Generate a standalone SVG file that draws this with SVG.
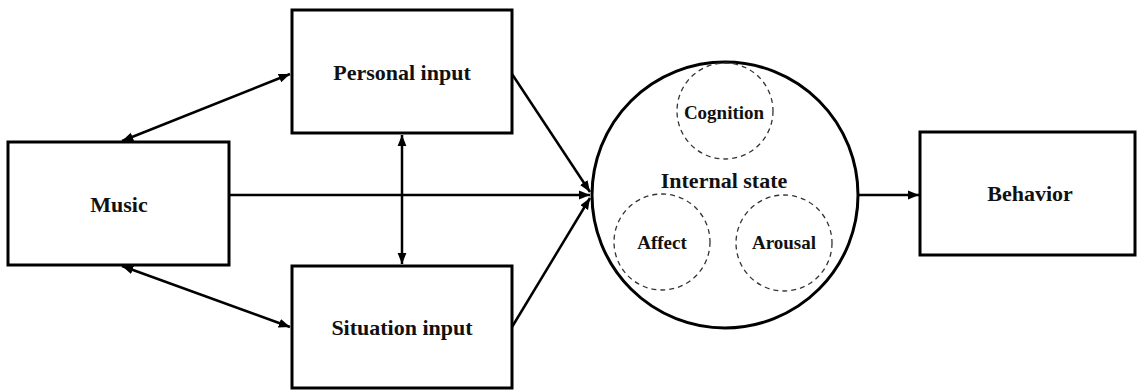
<svg xmlns="http://www.w3.org/2000/svg" width="1137" height="391" viewBox="0 0 1137 391">
<style>
.box{fill:#fff;stroke:#000;stroke-width:3}
.big{fill:#fff;stroke:#000;stroke-width:3}
.dash{fill:none;stroke:#333;stroke-width:1.3;stroke-dasharray:5,4}
.lbl{font-family:'Liberation Serif','Times New Roman','DejaVu Serif',serif;font-weight:bold;font-size:22px;fill:#111;text-anchor:middle}
.sm{font-size:19px}
.conn{stroke:#000;stroke-width:2.5;fill:none}
</style>
<defs>
<marker id="ah" viewBox="0 0 10 10" refX="10" refY="5" markerWidth="4.5" markerHeight="4.5" orient="auto-start-reverse" markerUnits="strokeWidth">
<path d="M0,1 L10,5 L0,9 z" fill="#000"/>
</marker>
</defs>
<g id="connectors">
<line class="conn" x1="122" y1="141" x2="290" y2="74" marker-start="url(#ah)" marker-end="url(#ah)"/>
<line class="conn" x1="122" y1="266" x2="290" y2="327" marker-start="url(#ah)" marker-end="url(#ah)"/>
<line class="conn" x1="402" y1="135" x2="402" y2="264" marker-start="url(#ah)" marker-end="url(#ah)"/>
<line class="conn" x1="229" y1="195" x2="590" y2="195" marker-end="url(#ah)"/>
<line class="conn" x1="512" y1="74" x2="590" y2="192" marker-end="url(#ah)"/>
<line class="conn" x1="512" y1="327" x2="590" y2="198" marker-end="url(#ah)"/>
<line class="conn" x1="858" y1="195" x2="919" y2="195" marker-end="url(#ah)"/>
</g>
<g id="music">
<rect class="box" x="8" y="142" width="221" height="123"/>
<text class="lbl" x="119" y="212">Music</text>
</g>
<g id="personal">
<rect class="box" x="292" y="10" width="220" height="123"/>
<text class="lbl" x="402" y="80">Personal input</text>
</g>
<g id="situation">
<rect class="box" x="292" y="266" width="220" height="122"/>
<text class="lbl" x="402" y="335">Situation input</text>
</g>
<g id="internal">
<circle class="big" cx="725" cy="195" r="133"/>
<text class="lbl" x="724" y="188">Internal state</text>
</g>
<g id="cognition">
<circle class="dash" cx="725" cy="111" r="48"/>
<text class="lbl sm" x="724" y="119">Cognition</text>
</g>
<g id="affect">
<circle class="dash" cx="662" cy="242" r="48"/>
<text class="lbl sm" x="662" y="249">Affect</text>
</g>
<g id="arousal">
<circle class="dash" cx="784" cy="243" r="48"/>
<text class="lbl sm" x="784" y="249">Arousal</text>
</g>
<g id="behavior">
<rect class="box" x="920" y="132" width="215" height="123"/>
<text class="lbl" x="1030" y="201">Behavior</text>
</g>
</svg>
